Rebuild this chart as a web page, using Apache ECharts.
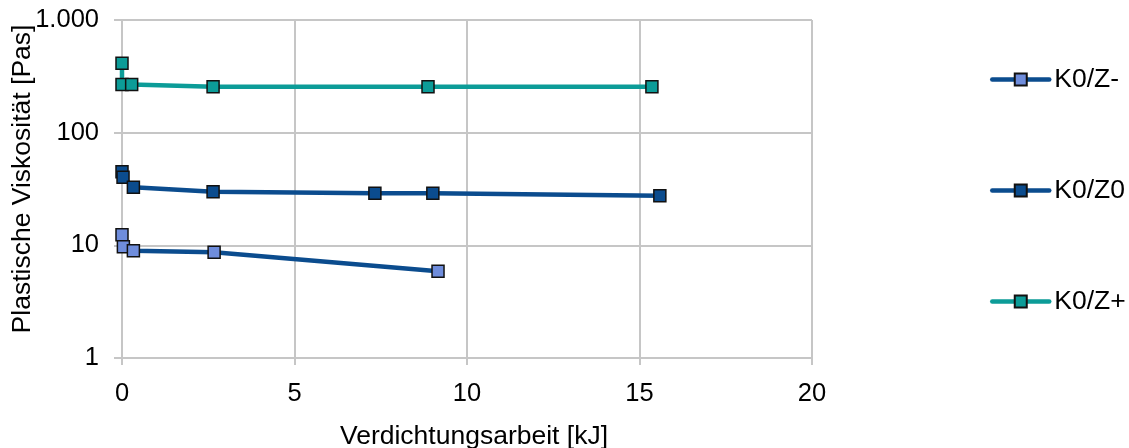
<!DOCTYPE html>
<html>
<head>
<meta charset="utf-8">
<title>Plastische Viskosität</title>
<script src="https://cdn.jsdelivr.net/npm/echarts@6/dist/echarts.min.js"></script>
<style>
  html, body { margin: 0; padding: 0; background: #fff; }
  #chart { width: 1129px; height: 448px; }
</style>
</head>
<body>
<div id="chart"></div>
<script>
// Verdichtungsarbeit [kJ] und plastische Viskosität [Pas] je Mischung
const seriesNames = ['K0/Z-', 'K0/Z0', 'K0/Z+'];

const zMinusX = [0, 0.04, 0.33, 2.67, 9.16];
const zMinusY = [12.4, 9.7, 8.96, 8.67, 5.9];

const zNullX = [0, 0.03, 0.33, 2.64, 7.33, 9.01, 15.59];
const zNullY = [45, 40.2, 32.7, 29.9, 29, 29, 27.6];

const zPlusX = [0, 0, 0.28, 2.64, 8.87, 15.36];
const zPlusY = [413, 268, 268, 256, 256, 256];

const yTickLabels = { 1: '1', 10: '10', 100: '100', 1000: '1.000' };

const FONT = 'Liberation Sans, Arial, sans-serif';
const NAME_SIZE = 26.5;
const TICK_SIZE = 25.5;
const GRID = '#c6c6c6';
const DARK_BLUE = '#0b4c8e';
const LIGHT_BLUE = '#6f8ddc';
const TEAL = '#0c9c98';

const pairs = (xs, ys) => xs.map((x, i) => [x, ys[i]]);

function lineSeries(name, xs, ys, lineColor, fillColor) {
  return {
    name: name,
    type: 'line',
    data: pairs(xs, ys),
    symbol: 'rect',
    symbolSize: 12,
    showAllSymbol: true,
    lineStyle: { color: lineColor, width: 4.5 },
    itemStyle: { color: fillColor, borderColor: '#111', borderWidth: 1.5 },
    color: lineColor,
    emphasis: { disabled: true },
    z: 3
  };
}

const chart = echarts.init(document.getElementById('chart'), null, { renderer: 'canvas' });

chart.setOption({
  animation: false,
  backgroundColor: '#fff',
  textStyle: { fontFamily: FONT },
  grid: { left: 122, right: 317, top: 20, bottom: 90, containLabel: false, outerBoundsMode: 'none' },
  legend: {
    orient: 'vertical',
    left: 985,
    top: 61,
    itemWidth: 57,
    itemHeight: 15,
    itemGap: 84,
    lineStyle: { width: 4.5, cap: 'round' },
    textStyle: { fontFamily: FONT, fontSize: NAME_SIZE, color: '#000' },
    data: seriesNames
  },
  xAxis: {
    type: 'value',
    min: 0,
    max: 20,
    interval: 5,
    name: 'Verdichtungsarbeit [kJ]',
    nameLocation: 'middle',
    nameGap: 65,
    nameMoveOverlap: false,
    nameTextStyle: { fontFamily: FONT, fontSize: NAME_SIZE, color: '#000', padding: [0, 0, 0, 14] },
    axisLine: { show: true, lineStyle: { color: GRID, width: 2 } },
    axisTick: { show: true, length: 7, lineStyle: { color: GRID, width: 2 } },
    axisLabel: { fontFamily: FONT, fontSize: TICK_SIZE, color: '#000', margin: 23 },
    splitLine: { show: true, lineStyle: { color: GRID, width: 2 } }
  },
  yAxis: {
    type: 'log',
    logBase: 10,
    min: 1,
    max: 1000,
    name: 'Plastische Viskosität [Pas]',
    nameLocation: 'middle',
    nameGap: 86,
    nameMoveOverlap: false,
    nameTextStyle: { fontFamily: FONT, fontSize: NAME_SIZE, color: '#000', padding: [0, 0, 0, 20] },
    axisLine: { show: true, lineStyle: { color: GRID, width: 2 } },
    axisTick: { show: true, length: 8, lineStyle: { color: GRID, width: 2 } },
    axisLabel: {
      fontFamily: FONT, fontSize: TICK_SIZE, color: '#000', margin: 23,
      formatter: v => yTickLabels[Math.round(v)] || String(v)
    },
    splitLine: { show: true, lineStyle: { color: GRID, width: 2 } }
  },
  series: [
    lineSeries(seriesNames[0], zMinusX, zMinusY, DARK_BLUE, LIGHT_BLUE),
    lineSeries(seriesNames[1], zNullX, zNullY, DARK_BLUE, DARK_BLUE),
    lineSeries(seriesNames[2], zPlusX, zPlusY, TEAL, TEAL)
  ]
});
</script>
</body>
</html>
